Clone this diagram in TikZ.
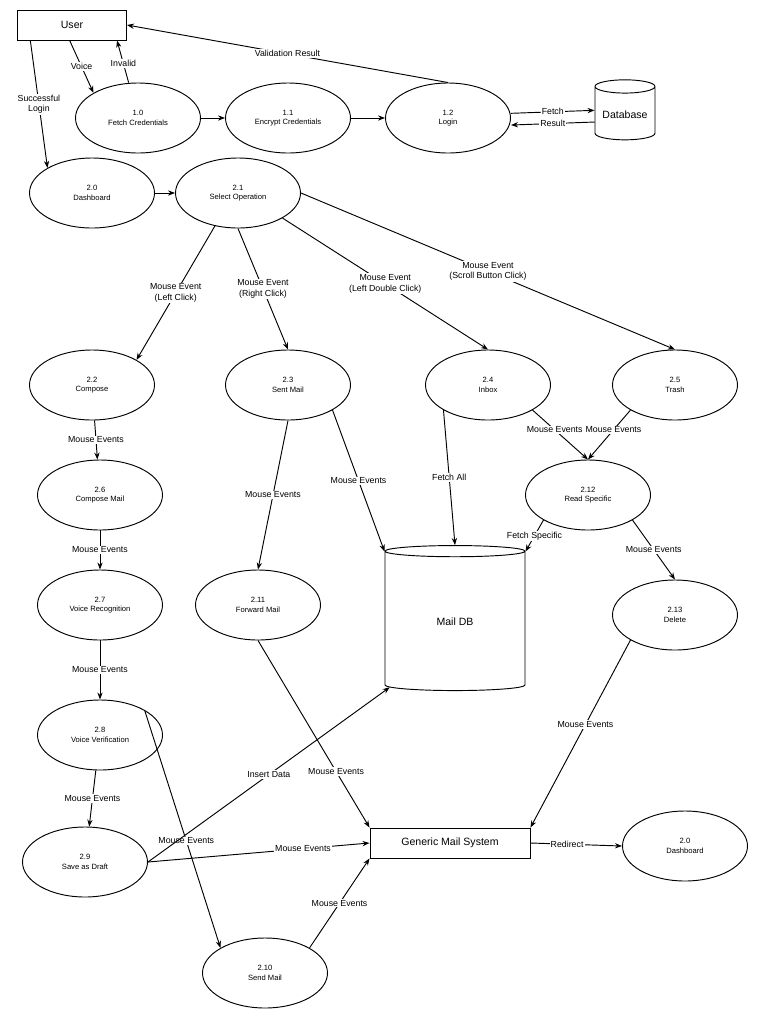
\documentclass[tikz,border=0pt]{standalone}
\usepackage{fontspec}
\setmainfont{Liberation Sans}
\usetikzlibrary{shapes.geometric, arrows.meta}

\begin{document}
\begin{tikzpicture}[
    x=0.03cm, y=-0.03cm,
    proc/.style={ellipse, draw, thick, minimum width=3.75cm, minimum height=2.1cm, font=\fontsize{6.5}{8}\selectfont, align=center},
    ext/.style={rectangle, draw, thick, font=\small},
    store/.style={cylinder, shape border rotate=90, aspect=0.25, draw, thick, font=\small},
    lbl/.style={fill=white, font=\fontsize{7.5}{9}\selectfont, align=center, inner sep=1pt},
    every path/.append style={thick},
    flow/.style={-{Stealth[length=6pt]}}
]
   \useasboundingbox (0,0) rectangle (767,1024);

   % External entities and stores
   \node[ext, minimum width=3.27cm, minimum height=0.9cm] (user) at (72,25) {User};
   \node[store, minimum width=1.8cm, minimum height=1.8cm] (db) at (625,115) {Database};
   \node[store, minimum width=4.2cm, minimum height=4.35cm] (maildb) at (455,622) {Mail DB};
   \node[ext, minimum width=4.8cm, minimum height=0.9cm] (gms) at (450,843) {Generic Mail System};

   % Processes
   \node[proc] (p10) at (138,118) {1.0\\Fetch Credentials};
   \node[proc] (p11) at (288,118) {1.1\\Encrypt Credentials};
   \node[proc] (p12) at (448,118) {1.2\\Login};
   \node[proc] (p20) at (92,193) {2.0\\Dashboard};
   \node[proc] (p21) at (238,193) {2.1\\Select Operation};
   \node[proc] (p22) at (92,385) {2.2\\Compose};
   \node[proc] (p23) at (288,385) {2.3\\Sent Mail};
   \node[proc] (p24) at (488,385) {2.4\\Inbox};
   \node[proc] (p25) at (675,385) {2.5\\Trash};
   \node[proc] (p26) at (100,495) {2.6\\Compose Mail};
   \node[proc] (p212) at (588,495) {2.12\\Read Specific};
   \node[proc] (p27) at (100,605) {2.7\\Voice Recognition};
   \node[proc] (p211) at (258,605) {2.11\\Forward Mail};
   \node[proc] (p213) at (675,615) {2.13\\Delete};
   \node[proc] (p28) at (100,735) {2.8\\Voice Verification};
   \node[proc] (p29) at (85,862) {2.9\\Save as Draft};
   \node[proc] (p20b) at (685,846) {2.0\\Dashboard};
   \node[proc] (p210) at (265,973) {2.10\\Send Mail};

   % Login flows
   \draw[flow] ([xshift=-2pt]user.south) -- node[lbl] {Voice} (p10.north west);
   \draw[flow] ([xshift=-8pt]p10.north) -- node[lbl, pos=0.45] {Invalid} ([xshift=1.35cm]user.south);
   \draw[flow] (p12.north) -- node[lbl] {Validation Result} (user.east);
   \draw[flow] ([xshift=-1.25cm]user.south) -- node[lbl] {Successful\\Login} (p20.north west);
   \draw[flow] (p10) -- (p11);
   \draw[flow] (p11) -- (p12);
   \draw[flow] ([yshift=4pt]p12.east) -- node[lbl] {Fetch} ([yshift=4pt]db.west);
   \draw[flow] ([yshift=-6pt]db.west) -- node[lbl] {Result} ([yshift=-6pt]p12.east);

   % Operation selection
   \draw[flow] (p20) -- (p21);
   \draw[flow] (p21.235) -- node[lbl] {Mouse Event\\(Left Click)} (p22.north east);
   \draw[flow] (p21.south) -- node[lbl] {Mouse Event\\(Right Click)} (p23.north);
   \draw[flow] (p21.south east) -- node[lbl] {Mouse Event\\(Left Double Click)} (p24.north);
   \draw[flow] (p21.east) -- node[lbl] {Mouse Event\\(Scroll Button Click)} (p25.north);

   % Compose branch
   \draw[flow] (p22) -- node[lbl] {Mouse Events} (p26);
   \draw[flow] (p26) -- node[lbl] {Mouse Events} (p27);
   \draw[flow] (p27) -- node[lbl] {Mouse Events} (p28);
   \draw[flow] (p28) -- node[lbl] {Mouse Events} (p29);
   \draw[flow] (p28.north east) -- node[lbl, pos=0.55] {Mouse Events} (p210.north west);
   \draw[flow] (p29.east) -- node[lbl] {Insert Data} (maildb.south west);
   \draw[flow] (p29.east) -- node[lbl, pos=0.7] {Mouse Events} (gms.west);
   \draw[flow] (p210.north east) -- node[lbl] {Mouse Events} (gms.south west);

   % Mail boxes
   \draw[flow] (p23.south) -- node[lbl] {Mouse Events} (p211.north);
   \draw[flow] (p23.south east) -- node[lbl] {Mouse Events} (maildb.north west);
   \draw[flow] (p24.south west) -- node[lbl] {Fetch All} (maildb.north);
   \draw[flow] (p24.south east) -- node[lbl, pos=0.4] {Mouse Events} (p212.north);
   \draw[flow] (p25.south west) -- node[lbl, pos=0.4] {Mouse Events} (p212.north);
   \draw[flow] (p212.south west) -- node[lbl] {Fetch Specific} (maildb.north east);
   \draw[flow] (p212.south east) -- node[lbl] {Mouse Events} (p213.north);
   \draw[flow] (p211.south) -- node[lbl, pos=0.7] {Mouse Events} (gms.north west);
   \draw[flow] (p213.south west) -- node[lbl, pos=0.45] {Mouse Events} (gms.north east);
   \draw[flow] (gms.east) -- node[lbl, pos=0.4] {Redirect} (p20b.west);
\end{tikzpicture}
\end{document}
